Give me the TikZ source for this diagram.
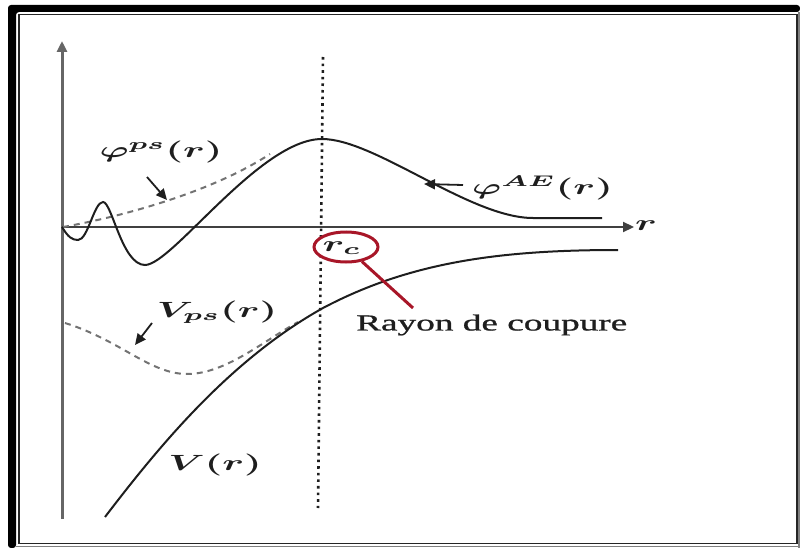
\documentclass[tikz,border=0pt]{standalone}
\usepackage{fontspec}
\setmainfont{Liberation Serif}
\newfontfamily\rayfont{Liberation Serif}[FakeBold=0.8]
\usetikzlibrary{arrows.meta,shapes.geometric}
\definecolor{redc}{RGB}{168,22,40}
\definecolor{ink}{RGB}{30,30,30}
\newcommand\mlab[1]{\scalebox{3.9}[2.2]{\boldmath$#1$}}
\newcommand\tlab[1]{\scalebox{1.62}[1]{\fontsize{23}{25}\rayfont #1}}
\begin{document}
\begin{tikzpicture}[x=1pt,y=-1pt,
  curve/.style={line width=2, draw=ink},
  dcurve/.style={line width=2, draw=black!55, dash pattern=on 6 off 5},
  axisv/.style={line width=3, draw=black!60},
  axish/.style={line width=2.2, draw=black!75},
  dotline/.style={line width=2.6, draw=ink, dash pattern=on 2.6 off 4},
  ann/.style={line width=1.8, draw=ink, -{Triangle[length=11,width=10]}},
  lab/.style={inner sep=0, text=ink},
  redline/.style={line width=3, draw=redc}
]
\useasboundingbox (0,0) rectangle (800,548);
% frame
\fill[black, rounded corners=3] (8,548) -- (8,5) -- (800,5) -- (800,12) -- (16,12) -- (16,548) -- cycle;
\draw[line width=1.3, black!85] (19,14.5) rectangle (797,543.5);
\draw[line width=1.5, black!50] (799.2,12) -- (799.2,548);
\draw[line width=1.5, black!50] (16,546.5) -- (800,546.5);

% axes
\coordinate (O) at (62,227);
\coordinate (ybot) at (62,519);
\coordinate (ytop) at (62,41);
\coordinate (xend) at (634,227);
\draw[axisv, -{Triangle[length=11,width=10]}] (ybot) -- (ytop);
\draw[axish, -{Triangle[length=11,width=10]}] (O) -- (xend);
\node[lab] (rlab) at (646,226) {\mlab{r}};

% dotted cut-off line
\coordinate (dtop) at (323,57);
\coordinate (dbot) at (318,508);
\draw[dotline] (dtop) -- (dbot);

% pseudo wave function (dashed)
\draw[dcurve] (63,227) .. controls (130,215) and (215,190) .. (270,154);
% all-electron wave function
\draw[curve] (62,227) .. controls (68,237) and (72,240) .. (78,240)
  .. controls (88,240) and (94,202) .. (103,202)
  .. controls (112,202) and (122,265) .. (145,265)
  .. controls (172,265) and (260,139) .. (322,139)
  .. controls (375,139) and (470,218) .. (533,218) -- (602,218);

% pseudo potential (dashed)
\draw[dcurve] (65,323) .. controls (120,340) and (150,374) .. (187,374)
  .. controls (225,374) and (262,342) .. (298,322);
% true potential
\draw[curve] (105,517) .. controls (160,445) and (230,360) .. (323,308)
  .. controls (410,262) and (500,250) .. (618,250);

% labels and arrows
\node[lab] (phips) at (161,152) {\mlab{\varphi^{ps}(r)}};
\coordinate (phipsT) at (167,200);
\draw[ann] (147,177) -- (phipsT);

\node[lab, anchor=west] (phiae) at (472,188) {\mlab{\varphi^{AE}(r)}};
\coordinate (phiaeT) at (424,184);
\draw[ann] (463,185) -- (phiaeT);

\node[lab] (vps) at (217,312) {\mlab{V_{ps}(r)}};
\coordinate (vpsT) at (135,345);
\draw[ann] (152,323) -- (vpsT);

\node[lab] (vr) at (215,465) {\mlab{V(r)}};

% cut-off radius
\node[ellipse, draw=redc, line width=3, fill=white, minimum width=64, minimum height=30, inner sep=0] (rc) at (346,247) {};
\node[lab] (rctext) at (342,248) {\mlab{r_c}};
\node[lab, anchor=west] (ray) at (356,325) {\tlab{Rayon de coupure}};
\coordinate (rend) at (413,308);
\draw[redline] (rc) -- (rend);
\end{tikzpicture}
\end{document}
